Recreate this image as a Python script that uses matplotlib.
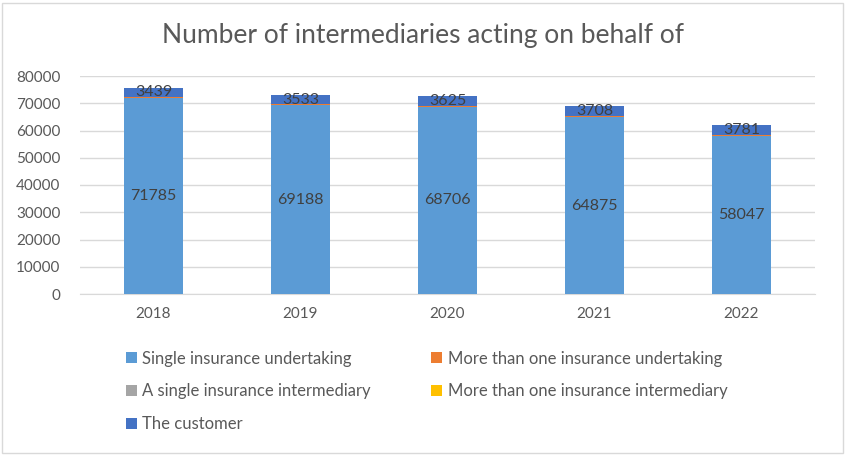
import matplotlib
matplotlib.use("Agg")
import matplotlib.pyplot as plt
from matplotlib.patches import Rectangle
import numpy as np

plt.rcParams['font.family'] = ['Lato', 'DejaVu Sans']

years = ["2018", "2019", "2020", "2021", "2022"]
single_undertaking = [71785, 69188, 68706, 64875, 58047]
multi_undertaking = [450, 400, 450, 500, 350]
single_intermediary = [0, 0, 0, 0, 0]
multi_intermediary = [0, 0, 0, 0, 0]
customer = [3439, 3533, 3625, 3708, 3781]

series = [
    ("Single insurance undertaking", single_undertaking, "#5B9BD5", True),
    ("More than one insurance undertaking", multi_undertaking, "#ED7D31", False),
    ("A single insurance intermediary", single_intermediary, "#A5A5A5", False),
    ("More than one insurance intermediary", multi_intermediary, "#FFC000", False),
    ("The customer", customer, "#4472C4", True),
]

W, H = 846, 455
fig = plt.figure(figsize=(W / 100, H / 100), dpi=100)
fig.patches.append(Rectangle((2 / W, 2 / H), (W - 5) / W, (H - 5) / H,
                             transform=fig.transFigure, fill=False,
                             edgecolor="#D9D9D9", linewidth=1))

ax = fig.add_axes([80 / W, 161 / H, 735 / W, 218 / H])
x = np.arange(len(years))
bottom = np.zeros(len(years))
handles = []
for name, vals, color, label in series:
    vals = np.array(vals, dtype=float)
    bars = ax.bar(x, vals, 0.4, bottom=bottom, color=color, label=name, zorder=3)
    handles.append(bars)
    if label:
        ax.bar_label(bars, labels=[str(int(v)) for v in vals], label_type="center",
                     color="#404040", fontsize=11.5)
    bottom += vals

ax.set_ylim(0, 80000)
ax.set_xlim(-0.5, len(years) - 0.5)
ax.set_yticks(np.arange(0, 80001, 10000))
ax.set_xticks(x)
ax.set_xticklabels(years)
ax.yaxis.grid(True, color="#D9D9D9", linewidth=1, zorder=0)
ax.tick_params(axis="both", length=0, labelsize=11, colors="#595959")
ax.tick_params(axis="x", pad=9)
ax.tick_params(axis="y", pad=14)
for s in ["top", "right", "left"]:
    ax.spines[s].set_visible(False)
ax.spines["bottom"].set_color("#D9D9D9")

fig.text(0.5, 1 - 35 / H, "Number of intermediaries acting on behalf of", ha="center",
         va="center", fontsize=19, color="#595959")

order = [0, 2, 4, 1, 3]
leg = fig.legend([handles[i] for i in order], [series[i][0] for i in order],
                 ncol=2, loc="upper left", bbox_to_anchor=(119 / W, 1 - 344 / H),
                 frameon=False, fontsize=12, labelcolor="#595959",
                 handlelength=0.65, handleheight=0.65, handletextpad=0.35,
                 columnspacing=3.6, labelspacing=1.0, borderaxespad=0)

fig.savefig("out.png", dpi=100)
